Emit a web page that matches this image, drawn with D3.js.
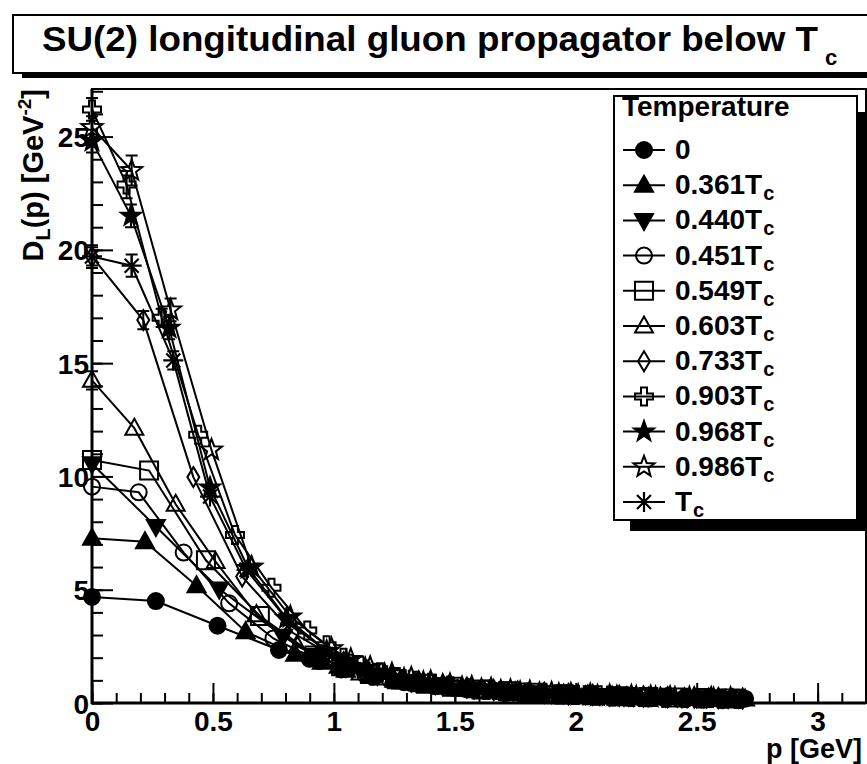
<!DOCTYPE html>
<html><head><meta charset="utf-8">
<script src="https://cdn.jsdelivr.net/npm/d3@7"></script>
<style>
body{margin:0;background:#fff}
svg{display:block}
text{font-family:"Liberation Sans",Arial,Helvetica,sans-serif;font-weight:bold;fill:#000}
</style>
</head><body>
<svg id="c" width="867" height="764"></svg>
<script>
// ---------------- DATA ----------------
const titleText = "SU(2) longitudinal gluon propagator below T";
const legendTitle = "Temperature";
const seriesNames = ["0", "0.361", "0.440", "0.451", "0.549", "0.603", "0.733", "0.903", "0.968", "0.986", ""];
const markerTypes = ["circleF", "triUpF", "triDnF", "circleO", "squareO", "triUpO", "diamondO", "crossO", "starF", "starO", "asterisk"];
const xTicks = [0, 0.5, 1, 1.5, 2, 2.5, 3];
const yTicks = [0, 5, 10, 15, 20, 25];

const p0 = [0, 0.264, 0.519, 0.773, 0.90, 1.03, 1.16, 1.29, 1.42, 1.54, 1.67, 1.80, 1.93, 2.06, 2.19, 2.32, 2.45, 2.58, 2.70];
const d0 = [4.68, 4.50, 3.41, 2.34, 1.95, 1.48, 1.16, 0.92, 0.74, 0.63, 0.53, 0.44, 0.38, 0.33, 0.29, 0.26, 0.23, 0.21, 0.19];
const e0 = [0.10, 0.08, 0.05, 0.03];

const p1 = [0, 0.219, 0.432, 0.635, 0.84, 0.95, 1.05, 1.15, 1.25, 1.35, 1.45, 1.55, 1.65, 1.75, 1.85, 1.95, 2.05, 2.15, 2.25, 2.35, 2.45, 2.55, 2.65];
const d1 = [7.27, 7.12, 5.17, 3.15, 2.15, 1.80, 1.45, 1.20, 1.00, 0.85, 0.74, 0.63, 0.55, 0.49, 0.43, 0.39, 0.35, 0.31, 0.28, 0.26, 0.23, 0.21, 0.19];
const e1 = [0.20, 0.15, 0.10, 0.06];

const p2 = [0, 0.264, 0.526, 0.79, 0.92, 1.05, 1.18, 1.32, 1.45, 1.58, 1.71, 1.84, 1.97, 2.10, 2.24, 2.37, 2.50, 2.63];
const d2 = [10.56, 7.79, 5.03, 2.95, 2.10, 1.58, 1.22, 0.93, 0.76, 0.63, 0.52, 0.45, 0.38, 0.33, 0.29, 0.26, 0.23, 0.20];
const e2 = [0.30, 0.20, 0.10, 0.05];

const p3 = [0, 0.193, 0.379, 0.567, 0.75, 0.94, 1.04, 1.13, 1.23, 1.32, 1.42, 1.51, 1.61, 1.70, 1.80, 1.89, 1.99, 2.08, 2.18, 2.27, 2.37, 2.46, 2.56, 2.65];
const d3v = [9.55, 9.30, 6.64, 4.40, 2.85, 1.85, 1.50, 1.25, 1.05, 0.89, 0.77, 0.66, 0.57, 0.50, 0.45, 0.40, 0.36, 0.32, 0.29, 0.27, 0.24, 0.22, 0.20, 0.19];
const e3 = [0.30, 0.25, 0.15, 0.08];

const p4 = [0, 0.236, 0.471, 0.694, 0.92, 1.03, 1.15, 1.26, 1.38, 1.49, 1.61, 1.72, 1.84, 1.95, 2.07, 2.18, 2.30, 2.41, 2.53, 2.64];
const d4 = [10.73, 10.26, 6.30, 3.84, 2.10, 1.62, 1.28, 1.05, 0.85, 0.72, 0.60, 0.52, 0.45, 0.39, 0.34, 0.30, 0.27, 0.24, 0.22, 0.20];
const e4 = [0.30, 0.25, 0.15, 0.07];

const p5 = [0, 0.175, 0.346, 0.511, 0.68, 0.85, 1.02, 1.11, 1.19, 1.28, 1.36, 1.45, 1.53, 1.62, 1.70, 1.79, 1.87, 1.96, 2.04, 2.13, 2.21, 2.30, 2.38, 2.47, 2.55, 2.64, 2.70];
const d5 = [14.24, 12.13, 8.77, 6.24, 3.90, 2.50, 1.62, 1.32, 1.10, 0.93, 0.80, 0.70, 0.61, 0.53, 0.47, 0.42, 0.38, 0.35, 0.32, 0.29, 0.27, 0.25, 0.23, 0.21, 0.20, 0.19, 0.18];
const e5 = [0.40, 0.30, 0.20, 0.10];

const p6 = [0, 0.212, 0.419, 0.621, 0.83, 1.04, 1.14, 1.24, 1.35, 1.45, 1.55, 1.66, 1.76, 1.87, 1.97, 2.07, 2.18, 2.28, 2.38, 2.49, 2.59, 2.69];
const d6 = [19.70, 16.90, 9.97, 5.58, 3.10, 1.80, 1.42, 1.15, 0.96, 0.80, 0.68, 0.58, 0.51, 0.45, 0.40, 0.36, 0.32, 0.29, 0.26, 0.24, 0.22, 0.20];
const e6 = [0.50, 0.40, 0.20, 0.10];

const p7 = [0, 0.143, 0.288, 0.439, 0.591, 0.742, 0.89, 0.97, 1.04, 1.11, 1.19, 1.26, 1.34, 1.41, 1.48, 1.56, 1.63, 1.71, 1.78, 1.86, 1.93, 2.00, 2.08, 2.15, 2.23, 2.30, 2.37, 2.45, 2.52, 2.60, 2.67];
const d7 = [26.20, 22.88, 17.00, 11.84, 7.42, 5.09, 3.20, 2.55, 2.00, 1.64, 1.36, 1.15, 0.98, 0.85, 0.74, 0.65, 0.58, 0.51, 0.46, 0.42, 0.38, 0.35, 0.32, 0.29, 0.27, 0.25, 0.23, 0.22, 0.20, 0.19, 0.18];
const e7 = [0.50, 0.60, 0.40, 0.25];

const p8 = [0, 0.161, 0.319, 0.488, 0.646, 0.804, 0.97, 1.05, 1.13, 1.21, 1.29, 1.37, 1.45, 1.53, 1.61, 1.69, 1.77, 1.85, 1.93, 2.01, 2.09, 2.17, 2.25, 2.33, 2.41, 2.49, 2.57];
const d8 = [24.80, 21.50, 16.55, 9.50, 5.95, 3.74, 2.30, 1.85, 1.52, 1.27, 1.07, 0.92, 0.79, 0.69, 0.61, 0.54, 0.48, 0.43, 0.39, 0.35, 0.32, 0.29, 0.27, 0.25, 0.23, 0.21, 0.20];
const e8 = [0.50, 0.50, 0.50, 0.25];

const p9 = [0, 0.164, 0.325, 0.494, 0.66, 0.82, 0.99, 1.07, 1.15, 1.24, 1.32, 1.40, 1.48, 1.57, 1.65, 1.73, 1.81, 1.90, 1.98, 2.06, 2.14, 2.23, 2.31, 2.39, 2.47, 2.56, 2.64];
const d9 = [25.40, 23.50, 17.35, 11.17, 6.00, 3.80, 2.40, 1.92, 1.57, 1.29, 1.10, 0.94, 0.81, 0.70, 0.62, 0.55, 0.49, 0.44, 0.39, 0.36, 0.33, 0.30, 0.27, 0.25, 0.23, 0.22, 0.20];
const e9 = [0.50, 0.66, 0.50, 0.25];

const p10 = [0, 0.164, 0.336, 0.488, 0.639, 0.82, 0.98, 1.06, 1.14, 1.22, 1.31, 1.39, 1.47, 1.55, 1.64, 1.72, 1.80, 1.88, 1.97, 2.05, 2.13, 2.21, 2.29, 2.38, 2.46, 2.54, 2.62];
const d10 = [19.71, 19.30, 15.12, 9.11, 5.87, 3.50, 2.20, 1.78, 1.46, 1.23, 1.03, 0.89, 0.77, 0.67, 0.59, 0.52, 0.47, 0.42, 0.38, 0.35, 0.32, 0.29, 0.27, 0.25, 0.23, 0.21, 0.20];
const e10 = [0.40, 0.49, 0.40, 0.20];

const allP = [p0, p1, p2, p3, p4, p5, p6, p7, p8, p9, p10];
const allD = [d0, d1, d2, d3v, d4, d5, d6, d7, d8, d9, d10];
const allE = [e0, e1, e2, e3, e4, e5, e6, e7, e8, e9, e10];

// ---------------- LAYOUT ----------------
const svg = d3.select("#c");
const X0 = 92, X1 = 866, Y0 = 703, Y1 = 89;
const x = d3.scaleLinear().domain([0, 3.2]).range([X0, X1]);
const y = d3.scaleLinear().domain([0, 27.1]).range([Y0, Y1]);

// Title box
svg.append("rect").attr("x", 22).attr("y", 73).attr("width", 860).attr("height", 5).attr("fill", "#000");
svg.append("rect").attr("x", 13).attr("y", 15).attr("width", 870).attr("height", 58)
  .attr("fill", "#fff").attr("stroke", "#000").attr("stroke-width", 2);
svg.append("text").attr("x", 42).attr("y", 51).attr("font-size", 35)
  .attr("textLength", 776).attr("lengthAdjust", "spacingAndGlyphs").text(titleText);
svg.append("text").attr("x", 825).attr("y", 65).attr("font-size", 22).text("c");

// Frame
svg.append("rect").attr("x", X0).attr("y", Y1).attr("width", X1 - X0).attr("height", Y0 - Y1)
  .attr("fill", "none").attr("stroke", "#000").attr("stroke-width", 2);

// Axes: ticks inward
const gx = svg.append("g").attr("transform", `translate(0,${Y0})`);
gx.call(d3.axisBottom(x).tickValues(d3.range(0, 3.21, 0.1)).tickSize(-10).tickFormat(""));
gx.select(".domain").remove();
const gx2 = svg.append("g").attr("transform", `translate(0,${Y0})`);
gx2.call(d3.axisBottom(x).tickValues(xTicks).tickSize(-20).tickPadding(8).tickFormat(d3.format("~g")));
gx2.select(".domain").remove();
gx2.selectAll("text").attr("font-size", 28).attr("font-family", null);

const gy = svg.append("g").attr("transform", `translate(${X0},0)`);
gy.call(d3.axisLeft(y).tickValues(d3.range(0, 27.01, 1)).tickSize(-11).tickFormat(""));
gy.select(".domain").remove();
const gy2 = svg.append("g").attr("transform", `translate(${X0},0)`);
gy2.call(d3.axisLeft(y).tickValues(yTicks).tickSize(-21).tickPadding(3).tickFormat(d3.format("d")));
gy2.select(".domain").remove();
gy2.selectAll("text").attr("font-size", 28).attr("font-family", null).attr("dy", "0.36em");
svg.selectAll(".tick line").attr("stroke-width", 2);

svg.append("line").attr("x1", X0).attr("x2", X0).attr("y1", Y1).attr("y2", Y0 + 1).attr("stroke", "#000").attr("stroke-width", 3);
svg.append("line").attr("x1", X0 - 1).attr("x2", X1).attr("y1", Y0).attr("y2", Y0).attr("stroke", "#000").attr("stroke-width", 3);

// Axis titles
svg.append("text").attr("x", 862).attr("y", 758).attr("text-anchor", "end").attr("font-size", 27).text("p [GeV]");
const yl = svg.append("text").attr("transform", "translate(43,89) rotate(-90)").attr("text-anchor", "end").attr("font-size", 29);
yl.append("tspan").text("D");
yl.append("tspan").attr("dy", 7).attr("font-size", 20).text("L");
yl.append("tspan").attr("dy", -7).text("(p) [GeV");
yl.append("tspan").attr("dy", -12).attr("font-size", 19).text("-2");
yl.append("tspan").attr("dy", 12).text("]");

// ---------------- MARKERS ----------------
function starPath(R, r) {
  let s = "";
  for (let i = 0; i < 10; i++) {
    const a = -Math.PI / 2 + i * Math.PI / 5;
    const rr = i % 2 === 0 ? R : r;
    s += (i === 0 ? "M" : "L") + (rr * Math.cos(a)).toFixed(2) + "," + (rr * Math.sin(a)).toFixed(2);
  }
  return s + "Z";
}
function markerPath(t) {
  switch (t) {
    case "circleF": case "circleO": return "M8,0A8,8 0 1,1 -8,0A8,8 0 1,1 8,0Z";
    case "triUpF": case "triUpO": return "M0,-9.5L9,6.5L-9,6.5Z";
    case "triDnF": return "M0,9.5L9,-6.5L-9,-6.5Z";
    case "squareO": return "M-9,-9H9V9H-9Z";
    case "diamondO": return "M0,-10L6,0L0,10L-6,0Z";
    case "crossO": return "M-3,-9H3V-3H9V3H3V9H-3V3H-9V-3H-3Z";
    case "starF": return starPath(10.5, 4.2);
    case "starO": return starPath(11, 4.6);
    case "asterisk": return "M-10,0H10M0,-10V10M-7,-7L7,7M-7,7L7,-7";
  }
}
function isFilled(t) { return t.endsWith("F"); }

function drawMarker(g, t, cx, cy) {
  g.append("path").attr("d", markerPath(t)).attr("transform", `translate(${cx},${cy})`)
    .attr("fill", isFilled(t) ? "#000" : "none").attr("stroke", "#000")
    .attr("stroke-width", t === "asterisk" ? 2.2 : 2).attr("stroke-linejoin", "miter");
}

const plot = svg.append("g");
const line = d3.line().x(d => x(d[0])).y(d => y(d[1]));
allP.forEach((ps, i) => {
  const pts = ps.map((p, j) => [p, allD[i][j], allE[i][j] || 0]);
  plot.append("path").attr("d", line(pts)).attr("fill", "none").attr("stroke", "#000").attr("stroke-width", 2);
  pts.forEach(d => {
    const yt = y(d[1] + d[2]), yb = y(d[1] - d[2]);
    if (yb - yt > 16) {
      const cx = x(d[0]);
      plot.append("path").attr("d", `M${cx},${yt}V${yb}M${cx - 6},${yt}H${cx + 6}M${cx - 6},${yb}H${cx + 6}`)
        .attr("stroke", "#000").attr("stroke-width", 2).attr("fill", "none");
    }
  });
  pts.forEach(d => drawMarker(plot, markerTypes[i], x(d[0]), y(d[1])));
});

// ---------------- LEGEND ----------------
const LX = 614, LY = 96, LW = 243, LH = 424;
svg.append("rect").attr("x", LX + LW).attr("y", LY + 16).attr("width", 9).attr("height", LH - 5).attr("fill", "#000");
svg.append("rect").attr("x", LX + 16).attr("y", LY + LH).attr("width", LW - 7).attr("height", 11).attr("fill", "#000");
svg.append("rect").attr("x", LX).attr("y", LY).attr("width", LW).attr("height", LH)
  .attr("fill", "#fff").attr("stroke", "#000").attr("stroke-width", 2);
svg.append("text").attr("x", 622).attr("y", 116).attr("font-size", 28).text(legendTitle);
seriesNames.forEach((nm, i) => {
  const cy = 150 + i * 35.2;
  svg.append("line").attr("x1", 623).attr("x2", 665).attr("y1", cy).attr("y2", cy).attr("stroke", "#000").attr("stroke-width", 2);
  drawMarker(svg, markerTypes[i], 644, cy);
  const t = svg.append("text").attr("x", 675).attr("y", cy + 9).attr("font-size", 28);
  if (i === 0) { t.text(nm); }
  else {
    t.append("tspan").text(nm + "T");
    t.append("tspan").attr("dx", 1).attr("dy", 6).attr("font-size", 20).text("c");
  }
});
</script>
</body></html>
